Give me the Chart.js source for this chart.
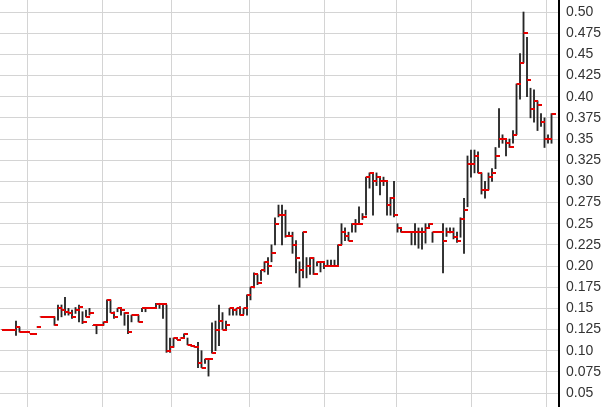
<!DOCTYPE html>
<html>
<head>
<meta charset="utf-8">
<script src="https://cdn.jsdelivr.net/npm/chart.js@4.4.1/dist/chart.umd.min.js"></script>
<style>
  html, body { margin: 0; padding: 0; background: #fff; }
  #wrap { width: 611px; height: 407px; }
</style>
</head>
<body>
<div id="wrap"><canvas id="chart" width="611" height="407"></canvas></div>
<script>
// daily high / low / close
const highs = [
  0.125, 0.125, 0.125, 0.125, 0.135, 0.128, 0.122, 0.122, 0.12, 0.12,
  0.128, 0.14, 0.14, 0.14, 0.14, 0.14, 0.154, 0.154, 0.163, 0.15,
  0.148, 0.151, 0.154, 0.146, 0.148, 0.15, 0.13, 0.13, 0.13, 0.134,
  0.16, 0.16, 0.146, 0.15, 0.15, 0.145, 0.142, 0.142, 0.142, 0.142,
  0.15, 0.15, 0.15, 0.15, 0.156, 0.156, 0.155, 0.154, 0.115, 0.115,
  0.113, 0.115, 0.12, 0.115, 0.105, 0.104, 0.11, 0.10, 0.09, 0.09,
  0.133, 0.135, 0.154, 0.145, 0.135, 0.15, 0.15, 0.15, 0.152, 0.15,
  0.166, 0.175, 0.192, 0.19, 0.195, 0.205, 0.21, 0.225, 0.257, 0.272,
  0.272, 0.266, 0.24, 0.24, 0.23, 0.205, 0.24, 0.21, 0.21, 0.21,
  0.205, 0.205, 0.205, 0.207, 0.207, 0.207, 0.225, 0.25, 0.245, 0.24,
  0.25, 0.255, 0.27, 0.262, 0.305, 0.31, 0.31, 0.31, 0.305, 0.305,
  0.30, 0.281, 0.30, 0.25, 0.245, 0.24, 0.24, 0.24, 0.25, 0.245,
  0.245, 0.25, 0.25, 0.24, 0.24, 0.24, 0.25, 0.245, 0.245, 0.245,
  0.24, 0.257, 0.28, 0.33, 0.337, 0.337, 0.335, 0.31, 0.30, 0.31,
  0.315, 0.34, 0.386, 0.355, 0.35, 0.35, 0.36, 0.415, 0.451, 0.50,
  0.47, 0.41, 0.408, 0.395, 0.38, 0.375, 0.355, 0.38
];
const lows = [
  0.125, 0.125, 0.125, 0.125, 0.118, 0.122, 0.122, 0.122, 0.12, 0.12,
  0.128, 0.14, 0.14, 0.14, 0.14, 0.13, 0.136, 0.14, 0.142, 0.142,
  0.138, 0.144, 0.134, 0.132, 0.14, 0.142, 0.13, 0.12, 0.13, 0.13,
  0.134, 0.145, 0.138, 0.146, 0.142, 0.13, 0.12, 0.134, 0.142, 0.134,
  0.146, 0.146, 0.15, 0.15, 0.15, 0.15, 0.138, 0.098, 0.098, 0.104,
  0.113, 0.115, 0.115, 0.107, 0.105, 0.104, 0.08, 0.08, 0.085, 0.07,
  0.097, 0.10, 0.106, 0.125, 0.125, 0.142, 0.142, 0.142, 0.142, 0.143,
  0.142, 0.16, 0.174, 0.178, 0.183, 0.193, 0.19, 0.205, 0.225, 0.258,
  0.225, 0.234, 0.235, 0.215, 0.192, 0.175, 0.186, 0.186, 0.19, 0.19,
  0.20, 0.193, 0.197, 0.20, 0.20, 0.20, 0.20, 0.225, 0.23, 0.23,
  0.24, 0.24, 0.25, 0.255, 0.26, 0.292, 0.26, 0.295, 0.284, 0.295,
  0.26, 0.26, 0.258, 0.24, 0.24, 0.24, 0.24, 0.225, 0.225, 0.221,
  0.22, 0.227, 0.245, 0.228, 0.24, 0.24, 0.192, 0.235, 0.239, 0.232,
  0.228, 0.234, 0.215, 0.27, 0.305, 0.31, 0.31, 0.285, 0.28, 0.29,
  0.30, 0.315, 0.34, 0.345, 0.33, 0.34, 0.345, 0.355, 0.397, 0.44,
  0.40, 0.375, 0.37, 0.36, 0.365, 0.34, 0.345, 0.345
];
const closes = [
  0.125, 0.125, 0.125, 0.125, 0.128, 0.122, 0.122, 0.122, 0.12, 0.12,
  0.128, 0.14, 0.14, 0.14, 0.14, 0.13, 0.15, 0.148, 0.146, 0.145,
  0.14, 0.148, 0.152, 0.134, 0.14, 0.145, 0.13, 0.13, 0.13, 0.134,
  0.16, 0.145, 0.14, 0.15, 0.148, 0.145, 0.122, 0.142, 0.142, 0.134,
  0.15, 0.15, 0.15, 0.15, 0.155, 0.155, 0.155, 0.10, 0.104, 0.115,
  0.113, 0.115, 0.12, 0.107, 0.105, 0.104, 0.085, 0.08, 0.09, 0.09,
  0.097, 0.125, 0.135, 0.125, 0.13, 0.15, 0.148, 0.15, 0.142, 0.15,
  0.166, 0.175, 0.19, 0.18, 0.195, 0.205, 0.20, 0.215, 0.25, 0.26,
  0.26, 0.235, 0.235, 0.225, 0.21, 0.195, 0.24, 0.20, 0.21, 0.19,
  0.205, 0.205, 0.20, 0.20, 0.20, 0.20, 0.225, 0.24, 0.235, 0.23,
  0.25, 0.25, 0.25, 0.258, 0.305, 0.31, 0.30, 0.305, 0.30, 0.30,
  0.272, 0.28, 0.26, 0.245, 0.24, 0.24, 0.24, 0.24, 0.24, 0.24,
  0.24, 0.245, 0.25, 0.24, 0.24, 0.24, 0.23, 0.24, 0.24, 0.234,
  0.23, 0.255, 0.266, 0.32, 0.32, 0.33, 0.31, 0.29, 0.29, 0.305,
  0.31, 0.33, 0.35, 0.35, 0.345, 0.34, 0.355, 0.415, 0.44, 0.475,
  0.42, 0.385, 0.395, 0.39, 0.37, 0.35, 0.35, 0.38
];

const yTickValues = [0.05, 0.075, 0.10, 0.125, 0.15, 0.175, 0.20, 0.225, 0.25, 0.275,
  0.30, 0.325, 0.35, 0.375, 0.40, 0.425, 0.45, 0.475, 0.50];
const yTickLabels = ['0.05', '0.075', '0.10', '0.125', '0.15', '0.175', '0.20', '0.225', '0.25', '0.275',
  '0.30', '0.325', '0.35', '0.375', '0.40', '0.425', '0.45', '0.475', '0.50'];
// month boundaries (in trading-day index) for the vertical grid
const monthBreaks = [7.15, 28.6, 48.3, 70.6, 92, 112.6, 134, 155.7];

// red close tick, sits to the right of each bar
const closeTick = document.createElement('canvas');
closeTick.width = 8;
closeTick.height = 2;
const tctx = closeTick.getContext('2d');
tctx.fillStyle = '#e80000';
tctx.fillRect(4, 0, 4, 2);

const ranges = highs.map((h, i) => ({ x: i, y: [lows[i], h] }));
const closePts = closes.map((c, i) => ({ x: i, y: c }));

new Chart(document.getElementById('chart'), {
  type: 'bar',
  data: {
    datasets: [
      {
        type: 'scatter',
        data: closePts,
        pointStyle: closeTick,
        pointRadius: 2,
        order: 0
      },
      {
        type: 'bar',
        data: ranges,
        backgroundColor: '#262626',
        borderWidth: 0,
        barThickness: 1.2,
        grouped: false,
        order: 1
      }
    ]
  },
  options: {
    responsive: false,
    animation: false,
    events: [],
    devicePixelRatio: 1,
    layout: { padding: 0, autoPadding: false },
    plugins: { legend: { display: false }, tooltip: { enabled: false } },
    scales: {
      x: {
        type: 'linear',
        min: -0.571,
        max: 159.14,
        offset: false,
        grid: { color: '#d4d4d4', lineWidth: 1, drawTicks: false, offset: false },
        border: { display: false },
        ticks: { display: false },
        afterBuildTicks: (scale) => { scale.ticks = monthBreaks.map(v => ({ value: v })); },
        afterFit: (scale) => {
          scale.height = 0;
          scale.paddingLeft = 0;
          scale.paddingRight = 0;
          scale.paddingTop = 0;
          scale.paddingBottom = 0;
        }
      },
      y: {
        type: 'linear',
        position: 'right',
        min: 0.0335,
        max: 0.5142,
        beginAtZero: false,
        grid: { color: '#d4d4d4', lineWidth: 1, drawTicks: false },
        border: { display: true, color: '#000', width: 2 },
        ticks: {
          padding: 7,
          color: '#333',
          font: { family: 'Liberation Sans, Arial, sans-serif', size: 14 },
          callback: (v) => {
            const k = yTickValues.findIndex(t => Math.abs(t - v) < 1e-6);
            return k >= 0 ? yTickLabels[k] : '';
          }
        },
        afterBuildTicks: (scale) => { scale.ticks = yTickValues.map(v => ({ value: v })); },
        afterFit: (scale) => {
          scale.width = 52;
          scale.paddingTop = 0;
          scale.paddingBottom = 0;
          scale.paddingLeft = 0;
          scale.paddingRight = 0;
        }
      }
    }
  }
});
</script>
</body>
</html>
